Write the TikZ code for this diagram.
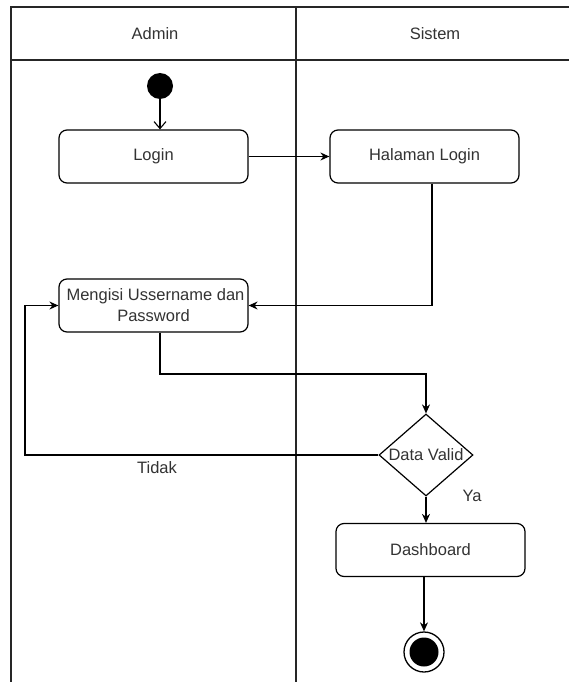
\documentclass[tikz,border=0pt]{standalone}
\usepackage{fontspec}
\setmainfont{Liberation Sans}
\usetikzlibrary{shapes.geometric,arrows.meta}
\definecolor{txt}{HTML}{333333}
\tikzset{
  act/.style={draw=black, line width=1.2pt, rounded corners=8pt, minimum width=189pt, minimum height=53pt, inner sep=0pt, align=center, text=txt, font=\fontsize{16.5}{21}\selectfont},
  dec/.style={draw=black, line width=1.2pt, diamond, aspect=1.15, minimum width=94pt, minimum height=82pt, inner sep=0pt, text=txt, font=\fontsize{16.5}{21}\selectfont},
  lbl/.style={text=txt, font=\fontsize{16.5}{21}\selectfont, inner sep=0pt},
  flow/.style={draw=black, line width=1.2pt, -{Stealth[length=9pt,width=8pt]}},
  openflow/.style={draw=black, line width=1.1pt, -{Straight Barb[length=7pt,width=12pt]}},
  lane/.style={draw=black!85, line width=1.4pt}
}
\begin{document}
\begin{tikzpicture}[x=1pt,y=-1pt]
\useasboundingbox (0,0) rectangle (569,682);
\fill[white] (0,0) rectangle (569,682);
% swimlane frame
\draw[lane] (11,682) -- (11,7) -- (569,7);
\draw[lane] (11,60) -- (569,60);
\draw[lane] (296,7) -- (296,682);
\node[lbl] (hadmin) at (155,34) {Admin};
\node[lbl] (hsistem) at (435,34) {Sistem};
% nodes
\node[circle, fill=black, minimum size=26pt, inner sep=0pt] (start) at (160,86) {};
\node[act] (login) at (153.5,156.5) {Login};
\node[act] (halaman) at (424.5,156.5) {Halaman Login};
\node[act] (mengisi) at (153.5,305.5) {\hspace*{4pt}Mengisi Ussername dan\\Password};
\node[dec] (valid) at (426,455) {Data Valid};
\node[act] (dash) at (430.5,550) {Dashboard};
\node[circle, draw=black, line width=1.3pt, fill=white, minimum size=40pt, inner sep=0pt] (end) at (424,652) {};
\node[circle, fill=black, minimum size=29pt, inner sep=0pt] (endin) at (end.center) {};
\coordinate (loopx) at (25,0);
\coordinate (midy) at (0,374);
\coordinate (hx) at (432,0);
% connectors
\draw[openflow] (start) -- (start.center |- login.north);
\draw[flow] (login.east) -- (halaman.west);
\draw[flow] (hx |- halaman.south) |- (mengisi.east);
\draw[flow] (start |- mengisi.south) -- (start |- midy) -| (valid.north);
\draw[flow] (valid.west) -| (loopx |- mengisi.west) -- (mengisi.west);
\draw[flow] (valid.south) -- (valid.south |- dash.north);
\draw[flow] (end.north |- dash.south) -- (end.north);
\node[lbl] (tidak) at (157,468) {Tidak};
\node[lbl] (ya) at (472,496) {Ya};
\end{tikzpicture}
\end{document}
